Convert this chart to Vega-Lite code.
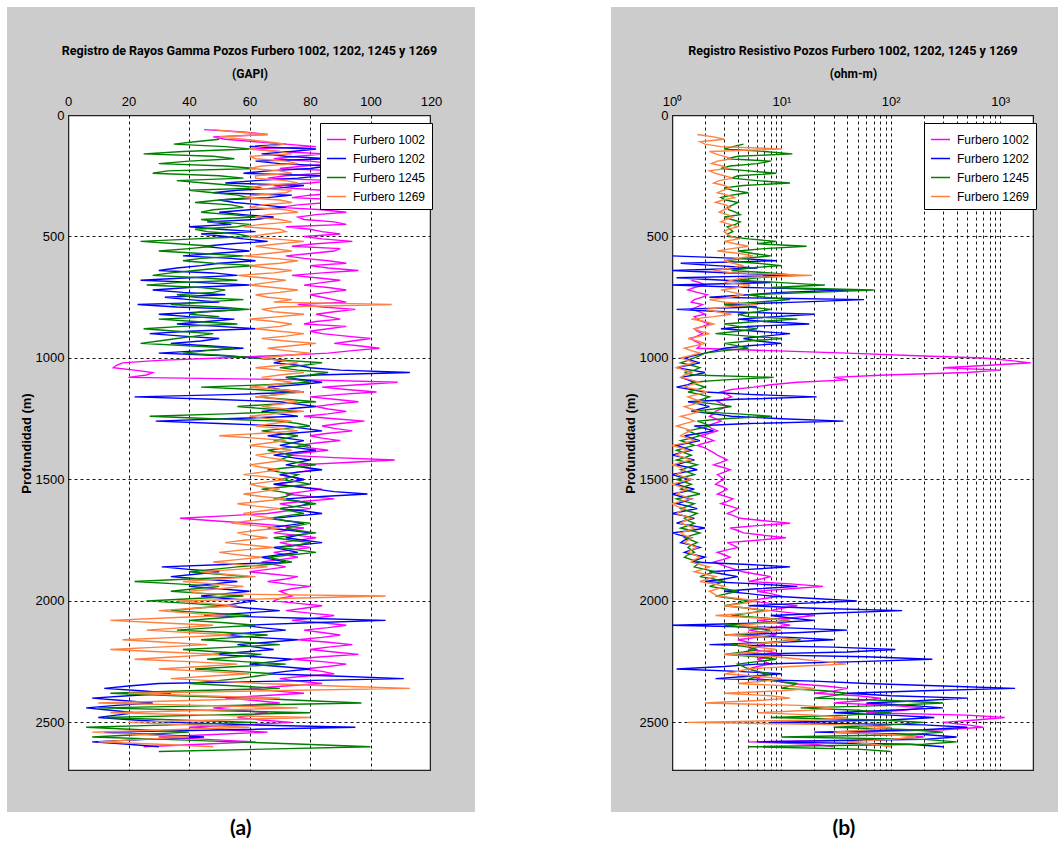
{
  "$schema": "https://vega.github.io/schema/vega-lite/v6.json",
  "background": "white",
  "padding": {"left": 6, "top": 5, "right": 0, "bottom": 0},
  "spacing": 134,
  "config": {
    "view": {"stroke": "#222222", "strokeWidth": 2.5, "fill": "white"},
    "axis": {"labelFont": "Liberation Sans", "labelFontSize": 13, "labelColor": "black", "titleColor": "black", "titleFont": "Roboto", "titleFontSize": 12, "titleFontWeight": "bold", "gridColor": "black", "gridDash": [3, 3], "gridOpacity": 0.9, "gridWidth": 1, "domain": false, "ticks": false, "tickSize": 0, "labelFlush": false, "labelOverlap": false},
    "title": {"font": "Roboto", "fontSize": 12.5, "fontWeight": "bold", "color": "black"},
    "legend": {"strokeColor": "black", "fillColor": "white", "padding": 6, "symbolType": "stroke", "symbolSize": 361, "symbolStrokeWidth": 1.5, "labelFont": "Liberation Sans", "labelFontSize": 12, "labelColor": "black", "rowPadding": 2, "labelOffset": 6, "cornerRadius": 0}
  },
  "datasets": {
    "w": [
      {"d":60,"g1002":45,"g1269":48},
      {"d":80,"g1002":66,"g1269":66,"r1269":1.7},
      {"d":100,"g1002":52,"g1245":50,"g1269":58,"r1269":3},
      {"d":120,"g1002":72,"g1202":72,"g1245":35,"g1269":72,"r1245":4.5,"r1269":2},
      {"d":140,"g1002":60,"g1202":82,"g1245":60,"g1269":60,"r1245":3,"r1269":10},
      {"d":160,"g1002":85,"g1202":64,"g1245":25,"g1269":74,"r1245":12.6,"r1269":2.5},
      {"d":180,"g1002":68,"g1202":86,"g1245":55,"g1269":62,"r1245":3.2,"r1269":3.5},
      {"d":200,"g1002":88,"g1202":70,"g1245":30,"g1269":76,"r1245":6,"r1269":2.3},
      {"d":220,"g1002":70,"g1202":80,"g1245":62,"g1269":60,"r1245":2.8,"r1269":3.2},
      {"d":240,"g1002":84,"g1202":58,"g1245":28,"g1269":74,"r1245":9,"r1269":2.5},
      {"d":260,"g1002":66,"g1202":76,"g1245":58,"g1269":62,"r1245":3.5,"r1269":3.6},
      {"d":280,"g1002":80,"g1202":52,"g1245":45,"g1269":76,"r1245":12,"r1269":2.4},
      {"d":300,"g1002":72,"g1202":70,"g1245":64,"g1269":60,"r1245":3,"r1269":3.4},
      {"d":320,"g1002":90,"g1202":48,"g1245":48,"g1269":72,"r1245":5,"r1269":2.6},
      {"d":340,"g1002":74,"g1202":66,"g1245":60,"g1269":58,"r1245":2.8,"r1269":3.8},
      {"d":360,"g1002":86,"g1202":55,"g1245":42,"g1269":74,"r1245":4,"r1269":2.5},
      {"d":380,"g1002":70,"g1202":72,"g1245":58,"g1269":60,"r1245":3.2,"r1269":3.4},
      {"d":400,"g1002":92,"g1202":50,"g1245":44,"g1269":76,"r1245":3.8,"r1269":2.7},
      {"d":420,"g1002":76,"g1202":68,"g1245":62,"g1269":62,"r1245":3,"r1269":3.6},
      {"d":440,"g1002":88,"g1202":46,"g1245":50,"g1269":74,"r1245":4.2,"r1269":2.8},
      {"d":460,"g1002":72,"g1202":40,"g1245":56,"g1269":58,"r1245":3.2,"r1269":4},
      {"d":480,"g1002":84,"g1202":62,"g1245":46,"g1269":72,"r1245":3.6,"r1269":3},
      {"d":500,"g1002":78,"g1202":52,"g1245":60,"g1269":60,"r1245":3.3,"r1269":3.5},
      {"d":520,"g1002":94,"g1202":66,"g1245":24,"g1269":78,"r1245":9,"r1269":3},
      {"d":540,"g1002":74,"g1202":45,"g1245":48,"g1269":62,"r1245":17,"r1269":5},
      {"d":560,"g1002":88,"g1202":60,"g1245":30,"g1269":74,"r1245":4,"r1269":2.6},
      {"d":580,"g1002":72,"g1202":38,"g1245":58,"g1269":58,"r1202":1,"r1245":8,"r1269":5.5},
      {"d":600,"g1002":86,"g1202":62,"g1245":38,"g1269":76,"r1202":9,"r1245":3,"r1269":3},
      {"d":620,"g1002":80,"g1202":44,"g1245":62,"g1269":60,"r1202":2.5,"r1245":10,"r1269":4.5},
      {"d":640,"g1002":96,"g1202":30,"g1245":42,"g1269":74,"r1202":1,"r1245":3.5,"r1269":2.4},
      {"d":660,"g1002":74,"g1202":56,"g1245":28,"g1269":56,"r1202":12,"r1245":14,"r1269":19},
      {"d":680,"g1002":90,"g1202":24,"g1245":56,"g1269":72,"r1002":1.5,"r1202":3,"r1245":4,"r1269":3.5},
      {"d":700,"g1002":78,"g1202":60,"g1245":26,"g1269":60,"r1002":2,"r1202":1,"r1245":25,"r1269":5.2},
      {"d":720,"g1002":92,"g1202":28,"g1245":52,"g1269":76,"r1002":1.4,"r1202":41,"r1245":70,"r1269":2.8},
      {"d":740,"g1002":80,"g1202":52,"g1245":36,"g1269":62,"r1002":2.1,"r1202":5,"r1245":5,"r1269":4.5},
      {"d":760,"g1002":88,"g1202":40,"g1245":58,"g1269":74,"r1002":1.6,"r1202":57,"r1245":12,"r1269":2.2},
      {"d":780,"g1002":76,"g1202":23,"g1245":34,"g1269":107,"r1002":1.9,"r1202":3,"r1245":3,"r1269":6},
      {"d":800,"g1002":95,"g1202":58,"g1245":60,"g1269":64,"r1002":1.5,"r1202":1.1,"r1245":8,"r1269":2},
      {"d":820,"g1002":82,"g1202":30,"g1245":40,"g1269":78,"r1002":2,"r1202":20,"r1245":4,"r1269":3.5},
      {"d":840,"g1002":90,"g1202":55,"g1245":30,"g1269":60,"r1002":1.7,"r1202":4,"r1245":14,"r1269":1.5},
      {"d":860,"g1002":78,"g1202":36,"g1245":56,"g1269":74,"r1002":2.2,"r1202":18,"r1245":3,"r1269":2.4},
      {"d":880,"g1002":86,"g1202":62,"g1245":25,"g1269":62,"r1002":1.6,"r1202":2.8,"r1245":6,"r1269":1.6},
      {"d":900,"g1002":84,"g1202":27,"g1245":48,"g1269":78,"r1002":1.9,"r1202":12,"r1245":2.5,"r1269":2.2},
      {"d":920,"g1002":100,"g1202":50,"g1245":36,"g1269":64,"r1002":1.5,"r1202":4.5,"r1245":10,"r1269":1.4},
      {"d":940,"g1002":88,"g1202":34,"g1245":24,"g1269":82,"r1002":1.8,"r1202":10,"r1245":3,"r1269":2},
      {"d":960,"g1002":103,"g1202":58,"g1245":55,"g1269":66,"r1002":1.7,"r1202":3,"r1245":5,"r1269":1.3},
      {"d":980,"g1002":86,"g1202":30,"g1245":38,"g1269":80,"r1002":40,"r1202":2,"r1245":2,"r1269":1.8},
      {"d":1000,"g1002":50,"g1202":62,"g1245":62,"g1269":64,"r1002":700,"r1202":1.3,"r1245":1.6,"r1269":1.2},
      {"d":1020,"g1002":18,"g1202":68,"g1245":84,"g1269":76,"r1002":1900,"r1202":1.8,"r1245":1.2,"r1269":1.6},
      {"d":1040,"g1002":15,"g1202":80,"g1245":70,"g1269":62,"r1002":300,"r1202":1.1,"r1245":1.8,"r1269":1.1},
      {"d":1060,"g1002":28,"g1202":113,"g1245":86,"g1269":78,"r1002":500,"r1202":2,"r1245":1.3,"r1269":1.5},
      {"d":1080,"g1002":20,"g1202":72,"g1245":72,"g1269":64,"r1002":30,"r1202":1.2,"r1245":8.5,"r1269":1.2},
      {"d":1100,"g1002":109,"g1202":84,"g1245":80,"g1269":74,"r1002":14,"r1202":1.6,"r1245":1.5,"r1269":1.8},
      {"d":1120,"g1002":84,"g1202":66,"g1245":44,"g1269":60,"r1002":5.6,"r1202":1.1,"r1245":2,"r1269":1.3},
      {"d":1140,"g1002":102,"g1202":78,"g1245":74,"g1269":78,"r1002":2.8,"r1202":2,"r1245":1.4,"r1269":2.1},
      {"d":1160,"g1002":80,"g1202":22,"g1245":62,"g1269":62,"r1002":3.5,"r1202":21,"r1245":2.2,"r1269":1.4},
      {"d":1180,"g1002":96,"g1202":70,"g1245":82,"g1269":76,"r1002":2.6,"r1202":1.4,"r1245":1.6,"r1269":1.9},
      {"d":1200,"g1002":82,"g1202":82,"g1245":56,"g1269":64,"r1002":3.2,"r1202":2.2,"r1245":3.5,"r1269":1.3},
      {"d":1220,"g1002":92,"g1202":64,"g1245":76,"g1269":78,"r1002":2.5,"r1202":1.5,"r1245":1.5,"r1269":1.8},
      {"d":1240,"g1002":78,"g1202":76,"g1245":27,"g1269":60,"r1002":2.2,"r1202":3.5,"r1245":8,"r1269":1.2},
      {"d":1260,"g1002":98,"g1202":29,"g1245":70,"g1269":74,"r1002":2.8,"r1202":37,"r1245":1.7,"r1269":1.6},
      {"d":1280,"g1002":84,"g1202":72,"g1245":80,"g1269":62,"r1002":2.1,"r1202":1.6,"r1245":2.2,"r1269":1.1},
      {"d":1300,"g1002":94,"g1202":84,"g1245":64,"g1269":76,"r1002":2.6,"r1202":2.4,"r1245":1.4,"r1269":1.5},
      {"d":1320,"g1002":80,"g1202":66,"g1245":76,"g1269":50,"r1002":1.8,"r1202":1.3,"r1245":1.8,"r1269":1.2},
      {"d":1340,"g1002":90,"g1202":78,"g1245":68,"g1269":72,"r1002":2.4,"r1202":1.8,"r1245":1.2,"r1269":1.6},
      {"d":1360,"g1002":76,"g1202":70,"g1245":80,"g1269":60,"r1002":1.7,"r1202":1.1,"r1245":1.6,"r1269":1},
      {"d":1380,"g1002":86,"g1202":82,"g1245":66,"g1269":74,"r1002":2.2,"r1202":1.5,"r1245":1.1,"r1269":1.4},
      {"d":1400,"g1002":72,"g1202":68,"g1245":74,"g1269":62,"r1002":2.6,"r1202":1,"r1245":1.5,"r1269":1.1},
      {"d":1420,"g1002":108,"g1202":80,"g1245":70,"g1269":72,"r1002":3.2,"r1202":1.6,"r1245":1.1,"r1269":1.5},
      {"d":1440,"g1002":76,"g1202":72,"g1245":82,"g1269":60,"r1002":2.4,"r1202":1.1,"r1245":1.7,"r1269":1},
      {"d":1460,"g1002":82,"g1202":84,"g1245":66,"g1269":70,"r1002":3.4,"r1202":1.7,"r1245":1.2,"r1269":1.3},
      {"d":1480,"g1002":70,"g1202":70,"g1245":76,"g1269":58,"r1002":2.6,"r1202":1,"r1245":1.6,"r1269":1.1},
      {"d":1500,"g1002":78,"g1202":78,"g1245":70,"g1269":72,"r1002":3,"r1202":1.5,"r1245":1.1,"r1269":1.5},
      {"d":1520,"g1002":68,"g1202":68,"g1245":80,"g1269":60,"r1002":2.5,"r1202":1.1,"r1245":1.5,"r1269":1},
      {"d":1540,"g1002":84,"g1202":82,"g1245":64,"g1269":70,"r1002":3.2,"r1202":1.6,"r1245":1.2,"r1269":1.4},
      {"d":1560,"g1002":72,"g1202":99,"g1245":74,"g1269":58,"r1002":2.6,"r1202":1,"r1245":1.8,"r1269":1.1},
      {"d":1580,"g1002":88,"g1202":72,"g1245":68,"g1269":72,"r1002":3.6,"r1202":1.5,"r1245":1.1,"r1269":1.5},
      {"d":1600,"g1002":70,"g1202":80,"g1245":82,"g1269":56,"r1002":2.8,"r1202":1.1,"r1245":1.6,"r1269":1},
      {"d":1620,"g1002":80,"g1202":70,"g1245":70,"g1269":70,"r1002":4,"r1202":1.7,"r1245":1.2,"r1269":1.3},
      {"d":1640,"g1002":66,"g1202":84,"g1245":78,"g1269":58,"r1002":3.2,"r1202":1,"r1245":1.7,"r1269":1.1},
      {"d":1660,"g1002":37,"g1202":68,"g1245":66,"g1269":68,"r1002":4.2,"r1202":1.6,"r1245":1.3,"r1269":1.5},
      {"d":1680,"g1002":60,"g1202":78,"g1245":80,"g1269":54,"r1002":12,"r1202":1.1,"r1245":1.6,"r1269":1.2},
      {"d":1700,"g1002":78,"g1202":66,"g1245":72,"g1269":70,"r1002":3.4,"r1202":2,"r1245":1.2,"r1269":1.6},
      {"d":1720,"g1002":68,"g1202":80,"g1245":82,"g1269":56,"r1002":4.5,"r1202":1,"r1245":1.8,"r1269":1.2},
      {"d":1740,"g1002":82,"g1202":72,"g1245":68,"g1269":66,"r1002":11,"r1202":1.5,"r1245":1.3,"r1269":1.5},
      {"d":1760,"g1002":70,"g1202":84,"g1245":80,"g1269":52,"r1002":3.2,"r1202":1.2,"r1245":1.7,"r1269":1.3},
      {"d":1780,"g1002":80,"g1202":68,"g1245":70,"g1269":68,"r1002":4,"r1202":1.8,"r1245":1.4,"r1269":1.7},
      {"d":1800,"g1002":68,"g1202":76,"g1245":82,"g1269":50,"r1002":2.6,"r1202":1.3,"r1245":1.6,"r1269":1.4},
      {"d":1820,"g1002":76,"g1202":64,"g1245":66,"g1269":64,"r1002":3.4,"r1202":2,"r1245":1.3,"r1269":1.8},
      {"d":1840,"g1002":64,"g1202":72,"g1245":74,"g1269":48,"r1002":2.4,"r1202":1.5,"r1245":1.8,"r1269":1.5},
      {"d":1860,"g1002":72,"g1202":31,"g1245":56,"g1269":66,"r1002":3.2,"r1202":12,"r1245":1.6,"r1269":2.2},
      {"d":1880,"g1002":60,"g1202":50,"g1245":40,"g1269":44,"r1002":4.4,"r1202":2.2,"r1245":2.5,"r1269":1.6},
      {"d":1900,"g1002":76,"g1202":34,"g1245":60,"g1269":62,"r1002":8,"r1202":4,"r1245":1.8,"r1269":2.5},
      {"d":1920,"g1002":66,"g1202":56,"g1245":22,"g1269":38,"r1002":5,"r1202":2,"r1245":3,"r1269":1.8},
      {"d":1940,"g1002":80,"g1202":40,"g1245":50,"g1269":58,"r1002":24,"r1202":14,"r1245":2.2,"r1269":3},
      {"d":1960,"g1002":70,"g1202":60,"g1245":34,"g1269":40,"r1002":6,"r1202":3,"r1245":4,"r1269":2.2},
      {"d":1980,"g1002":74,"g1202":44,"g1245":58,"g1269":105,"r1002":10,"r1202":8,"r1245":2.5,"r1269":2.6},
      {"d":2000,"g1002":68,"g1202":62,"g1245":26,"g1269":36,"r1002":5,"r1202":49,"r1245":5,"r1269":6},
      {"d":2020,"g1002":84,"g1202":52,"g1245":52,"g1269":56,"r1002":14,"r1202":5,"r1245":3,"r1269":3},
      {"d":2040,"g1002":72,"g1202":70,"g1245":34,"g1269":30,"r1002":8,"r1202":127,"r1245":7,"r1269":8},
      {"d":2060,"g1002":88,"g1202":45,"g1245":60,"g1269":52,"r1002":20,"r1202":8,"r1245":3.5,"r1269":2.5},
      {"d":2080,"g1002":74,"g1202":105,"g1245":40,"g1269":14,"r1002":6,"r1202":20,"r1245":12,"r1269":12},
      {"d":2100,"g1002":92,"g1202":58,"g1245":62,"g1269":48,"r1002":12,"r1202":1,"r1245":3,"r1269":4},
      {"d":2120,"g1002":78,"g1202":72,"g1245":36,"g1269":26,"r1002":5,"r1202":40,"r1245":8,"r1269":10},
      {"d":2140,"g1002":90,"g1202":50,"g1245":66,"g1269":54,"r1002":9,"r1202":3,"r1245":4,"r1269":3},
      {"d":2160,"g1002":76,"g1202":76,"g1245":44,"g1269":18,"r1002":4,"r1202":30,"r1245":15,"r1269":14},
      {"d":2180,"g1002":94,"g1202":56,"g1245":70,"g1269":46,"r1002":7,"r1202":2.2,"r1245":3.5,"r1269":4},
      {"d":2200,"g1002":80,"g1202":68,"g1245":38,"g1269":14,"r1002":5,"r1202":110,"r1245":6,"r1269":9},
      {"d":2220,"g1002":96,"g1202":48,"g1245":64,"g1269":50,"r1002":10,"r1202":4,"r1245":3,"r1269":3},
      {"d":2240,"g1002":74,"g1202":74,"g1245":46,"g1269":22,"r1002":6,"r1202":240,"r1245":9,"r1269":15},
      {"d":2260,"g1002":92,"g1202":60,"g1245":72,"g1269":56,"r1002":8,"r1202":6,"r1245":4,"r1269":39},
      {"d":2280,"g1002":78,"g1202":80,"g1245":42,"g1269":30,"r1002":5,"r1202":1.1,"r1245":5,"r1269":5},
      {"d":2300,"g1002":88,"g1202":66,"g1245":68,"g1269":60,"r1002":7,"r1202":10,"r1245":8,"r1269":3},
      {"d":2320,"g1002":70,"g1202":111,"g1245":56,"g1269":34,"r1002":6,"r1202":2.5,"r1245":5,"r1269":10},
      {"d":2340,"g1002":84,"g1202":30,"g1245":40,"g1269":64,"r1002":12,"r1202":60,"r1245":14,"r1269":4},
      {"d":2360,"g1002":60,"g1202":12,"g1245":70,"g1269":113,"r1002":40,"r1202":1370,"r1245":10,"r1269":20},
      {"d":2380,"g1002":78,"g1202":34,"g1245":14,"g1269":20,"r1002":20,"r1202":40,"r1245":40,"r1269":3},
      {"d":2400,"g1002":52,"g1202":8,"g1245":60,"g1269":70,"r1002":80,"r1202":500,"r1245":20,"r1269":12},
      {"d":2420,"g1002":70,"g1202":28,"g1245":97,"g1269":10,"r1002":30,"r1202":60,"r1245":300,"r1269":2},
      {"d":2440,"g1002":48,"g1202":6,"g1245":10,"g1269":76,"r1002":200,"r1202":300,"r1245":15,"r1269":30},
      {"d":2460,"g1002":66,"g1202":22,"g1245":80,"g1269":14,"r1002":60,"r1202":30,"r1245":100,"r1269":6},
      {"d":2480,"g1002":56,"g1202":10,"g1245":12,"g1269":80,"r1002":1100,"r1202":250,"r1245":8,"r1269":40},
      {"d":2500,"g1002":74,"g1202":35,"g1245":62,"g1269":20,"r1002":300,"r1202":8,"r1245":200,"r1269":1.4},
      {"d":2520,"g1002":40,"g1202":95,"g1245":6,"g1269":60,"r1002":700,"r1202":500,"r1245":30,"r1269":100},
      {"d":2540,"g1002":66,"g1202":12,"g1245":40,"g1269":8,"r1002":40,"r1202":20,"r1245":300,"r1269":30},
      {"d":2560,"g1002":30,"g1202":45,"g1245":8,"g1269":40,"r1002":200,"r1202":400,"r1245":10,"r1269":170},
      {"d":2580,"g1002":62,"g1202":8,"g1245":55,"g1269":10,"r1002":5,"r1202":6,"r1245":400,"r1269":40},
      {"d":2600,"g1002":25,"g1202":30,"g1245":100,"g1269":48,"r1002":30,"r1202":300,"r1245":5,"r1269":100},
      {"d":2620,"g1245":30,"r1245":100},
      {"d":70,"g1002":58,"g1269":56},
      {"d":90,"g1002":48,"g1269":50,"r1269":2.4},
      {"d":110,"g1002":62,"g1245":42,"g1269":66,"r1269":1.8},
      {"d":130,"g1002":82,"g1202":60,"g1245":52,"g1269":64,"r1245":3.6,"r1269":2.8},
      {"d":150,"g1002":70,"g1202":74,"g1245":38,"g1269":70,"r1245":7,"r1269":2.2},
      {"d":170,"g1002":76,"g1202":72,"g1245":48,"g1269":60,"r1245":4,"r1269":3},
      {"d":190,"g1002":80,"g1202":62,"g1245":40,"g1269":72,"r1245":8,"r1269":2.6},
      {"d":210,"g1002":78,"g1202":86,"g1245":52,"g1269":64,"r1245":3.4,"r1269":2.9},
      {"d":230,"g1002":90,"g1202":66,"g1245":33,"g1269":70,"r1245":5,"r1269":2.2},
      {"d":250,"g1002":72,"g1202":84,"g1245":50,"g1269":62,"r1245":4,"r1269":3},
      {"d":270,"g1002":88,"g1202":62,"g1245":36,"g1269":72,"r1245":6,"r1269":2.7},
      {"d":290,"g1002":68,"g1202":78,"g1245":55,"g1269":64,"r1245":4.5,"r1269":3},
      {"d":310,"g1002":84,"g1202":56,"g1245":40,"g1269":74,"r1245":3.6,"r1269":2.9},
      {"d":330,"g1002":80,"g1202":74,"g1245":56,"g1269":62,"r1245":3.5,"r1269":3.2},
      {"d":350,"g1002":92,"g1202":50,"g1245":50,"g1269":70,"r1245":3.1,"r1269":2.9},
      {"d":370,"g1002":76,"g1202":64,"g1245":54,"g1269":64,"r1245":3.6,"r1269":3.1},
      {"d":390,"g1002":84,"g1202":60,"g1245":48,"g1269":72,"r1245":3.3,"r1269":3},
      {"d":410,"g1002":82,"g1202":58,"g1245":54,"g1269":66,"r1245":4.2,"r1269":3.2},
      {"d":430,"g1002":78,"g1202":62,"g1245":44,"g1269":70,"r1245":3.5,"r1269":3.1},
      {"d":450,"g1002":92,"g1202":54,"g1245":60,"g1269":64,"r1245":3.8,"r1269":3.4},
      {"d":470,"g1002":80,"g1202":50,"g1245":42,"g1269":70,"r1245":3.4,"r1269":3.3},
      {"d":490,"g1002":90,"g1202":44,"g1245":56,"g1269":66,"r1245":3.2,"r1269":3.2},
      {"d":510,"g1002":84,"g1202":58,"g1245":42,"g1269":68,"r1245":5,"r1269":4},
      {"d":530,"g1002":82,"g1202":54,"g1245":36,"g1269":70,"r1245":6,"r1269":3.8},
      {"d":550,"g1002":90,"g1202":52,"g1245":40,"g1269":68,"r1245":7,"r1269":3.5},
      {"d":570,"g1002":80,"g1202":48,"g1245":44,"g1269":66,"r1245":5.5,"r1269":4.2},
      {"d":590,"g1002":78,"g1202":54,"g1245":44,"g1269":68,"r1202":4,"r1245":4.5,"r1269":4},
      {"d":610,"g1002":92,"g1202":50,"g1245":48,"g1269":70,"r1202":1.2,"r1245":6,"r1269":3.6},
      {"d":630,"g1002":86,"g1202":36,"g1245":50,"g1269":66,"r1202":6,"r1245":5,"r1269":3.4},
      {"d":650,"g1002":84,"g1202":48,"g1245":34,"g1269":68,"r1202":3.5,"r1245":8,"r1269":3.6},
      {"d":670,"g1002":82,"g1202":40,"g1245":44,"g1269":64,"r1202":1.1,"r1245":6,"r1269":4.5},
      {"d":690,"g1002":84,"g1202":44,"g1245":36,"g1269":66,"r1002":1.8,"r1202":8,"r1245":10,"r1269":3},
      {"d":710,"g1002":86,"g1202":40,"g1245":44,"g1269":68,"r1002":1.6,"r1202":5,"r1245":8,"r1269":4},
      {"d":730,"g1002":86,"g1202":38,"g1245":48,"g1269":70,"r1002":1.7,"r1202":10,"r1245":20,"r1269":3.6},
      {"d":750,"g1002":84,"g1202":32,"g1245":42,"g1269":66,"r1002":1.9,"r1202":2.2,"r1245":7,"r1269":3.4},
      {"d":770,"g1002":92,"g1202":50,"g1245":44,"g1269":68,"r1002":1.5,"r1202":14,"r1245":6,"r1269":3},
      {"d":790,"g1002":84,"g1202":36,"g1245":50,"g1269":70,"r1002":1.7,"r1202":6,"r1245":5,"r1269":3.2},
      {"d":810,"g1002":88,"g1202":46,"g1245":44,"g1269":68,"r1002":1.8,"r1202":3,"r1245":6,"r1269":2.6},
      {"d":830,"g1002":86,"g1202":40,"g1245":50,"g1269":70,"r1002":1.6,"r1202":9,"r1245":5,"r1269":2.4},
      {"d":850,"g1002":82,"g1202":46,"g1245":42,"g1269":68,"r1002":1.9,"r1202":7,"r1245":6,"r1269":2},
      {"d":870,"g1002":92,"g1202":50,"g1245":38,"g1269":70,"r1002":1.9,"r1202":5,"r1245":4,"r1269":2},
      {"d":890,"g1002":80,"g1202":40,"g1245":36,"g1269":70,"r1002":1.7,"r1202":6,"r1245":4,"r1269":1.8},
      {"d":910,"g1002":92,"g1202":38,"g1245":42,"g1269":72,"r1002":1.7,"r1202":7,"r1245":5,"r1269":1.8},
      {"d":930,"g1002":94,"g1202":44,"g1245":30,"g1269":72,"r1002":1.6,"r1202":6,"r1245":5,"r1269":1.7},
      {"d":950,"g1002":96,"g1202":46,"g1245":40,"g1269":74,"r1002":1.8,"r1202":5,"r1245":4,"r1269":1.6},
      {"d":970,"g1002":94,"g1202":44,"g1245":46,"g1269":72,"r1002":8,"r1202":2.5,"r1245":3,"r1269":1.5},
      {"d":990,"g1002":70,"g1202":50,"g1245":52,"g1269":72,"r1002":150,"r1202":1.6,"r1245":1.8,"r1269":1.5},
      {"d":1010,"g1002":30,"g1202":72,"g1245":72,"g1269":70,"r1002":1200,"r1202":1.5,"r1245":1.4,"r1269":1.4},
      {"d":1030,"g1002":16,"g1202":76,"g1245":78,"g1269":70,"r1002":800,"r1202":1.4,"r1245":1.5,"r1269":1.3},
      {"d":1050,"g1002":22,"g1202":90,"g1245":76,"g1269":70,"r1002":1000,"r1202":1.5,"r1245":1.6,"r1269":1.3},
      {"d":1070,"g1002":26,"g1202":82,"g1245":80,"g1269":70,"r1002":90,"r1202":1.6,"r1245":1.6,"r1269":1.3},
      {"d":1090,"g1002":80,"g1202":78,"g1245":76,"g1269":68,"r1002":40,"r1202":1.4,"r1245":3,"r1269":1.5},
      {"d":1110,"g1002":96,"g1202":76,"g1245":66,"g1269":68,"r1002":8,"r1202":1.4,"r1245":1.7,"r1269":1.5},
      {"d":1130,"g1002":92,"g1202":70,"g1245":62,"g1269":70,"r1002":3.5,"r1202":1.5,"r1245":1.7,"r1269":1.7},
      {"d":1150,"g1002":90,"g1202":56,"g1245":70,"g1269":70,"r1002":3.2,"r1202":5,"r1245":1.8,"r1269":1.7},
      {"d":1170,"g1002":88,"g1202":48,"g1245":72,"g1269":70,"r1002":3,"r1202":4,"r1245":1.9,"r1269":1.6},
      {"d":1190,"g1002":88,"g1202":76,"g1245":68,"g1269":70,"r1002":2.9,"r1202":1.8,"r1245":2.5,"r1269":1.6},
      {"d":1210,"g1002":86,"g1202":72,"g1245":66,"g1269":72,"r1002":2.8,"r1202":1.8,"r1245":2.4,"r1269":1.5},
      {"d":1230,"g1002":86,"g1202":70,"g1245":52,"g1269":68,"r1002":2.4,"r1202":2.4,"r1245":4,"r1269":1.5},
      {"d":1250,"g1002":88,"g1202":52,"g1245":48,"g1269":66,"r1002":2.5,"r1202":10,"r1245":3,"r1269":1.4},
      {"d":1270,"g1002":90,"g1202":50,"g1245":76,"g1269":68,"r1002":2.4,"r1202":5,"r1245":2,"r1269":1.3},
      {"d":1290,"g1002":88,"g1202":78,"g1245":72,"g1269":70,"r1002":2.3,"r1202":2,"r1245":1.8,"r1269":1.3},
      {"d":1310,"g1002":86,"g1202":74,"g1245":70,"g1269":64,"r1002":2.2,"r1202":1.8,"r1245":1.6,"r1269":1.3},
      {"d":1330,"g1002":84,"g1202":72,"g1245":72,"g1269":62,"r1002":2.1,"r1202":1.5,"r1245":1.5,"r1269":1.4},
      {"d":1350,"g1002":82,"g1202":74,"g1245":74,"g1269":66,"r1002":2,"r1202":1.4,"r1245":1.4,"r1269":1.3},
      {"d":1370,"g1002":80,"g1202":76,"g1245":72,"g1269":68,"r1002":2,"r1202":1.3,"r1245":1.3,"r1269":1.2},
      {"d":1390,"g1002":78,"g1202":74,"g1245":70,"g1269":68,"r1002":2.4,"r1202":1.2,"r1245":1.3,"r1269":1.2},
      {"d":1410,"g1002":88,"g1202":74,"g1245":72,"g1269":66,"r1002":2.9,"r1202":1.3,"r1245":1.3,"r1269":1.3},
      {"d":1430,"g1002":92,"g1202":76,"g1245":76,"g1269":66,"r1002":2.8,"r1202":1.3,"r1245":1.4,"r1269":1.2},
      {"d":1450,"g1002":78,"g1202":78,"g1245":74,"g1269":64,"r1002":2.9,"r1202":1.4,"r1245":1.4,"r1269":1.2},
      {"d":1470,"g1002":76,"g1202":76,"g1245":70,"g1269":64,"r1002":3,"r1202":1.3,"r1245":1.4,"r1269":1.2},
      {"d":1490,"g1002":74,"g1202":74,"g1245":74,"g1269":66,"r1002":2.8,"r1202":1.2,"r1245":1.3,"r1269":1.3},
      {"d":1510,"g1002":74,"g1202":74,"g1245":76,"g1269":66,"r1002":2.7,"r1202":1.3,"r1245":1.3,"r1269":1.2},
      {"d":1530,"g1002":76,"g1202":76,"g1245":72,"g1269":64,"r1002":2.9,"r1202":1.3,"r1245":1.3,"r1269":1.2},
      {"d":1550,"g1002":78,"g1202":88,"g1245":70,"g1269":64,"r1002":2.9,"r1202":1.3,"r1245":1.5,"r1269":1.2},
      {"d":1570,"g1002":80,"g1202":84,"g1245":72,"g1269":64,"r1002":3.1,"r1202":1.2,"r1245":1.4,"r1269":1.3},
      {"d":1590,"g1002":78,"g1202":76,"g1245":76,"g1269":64,"r1002":3.2,"r1202":1.3,"r1245":1.3,"r1269":1.2},
      {"d":1610,"g1002":74,"g1202":76,"g1245":76,"g1269":62,"r1002":3.4,"r1202":1.4,"r1245":1.4,"r1269":1.1},
      {"d":1630,"g1002":72,"g1202":78,"g1245":74,"g1269":64,"r1002":3.6,"r1202":1.3,"r1245":1.4,"r1269":1.2},
      {"d":1650,"g1002":52,"g1202":76,"g1245":72,"g1269":62,"r1002":3.7,"r1202":1.3,"r1245":1.5,"r1269":1.3},
      {"d":1670,"g1002":48,"g1202":72,"g1245":72,"g1269":60,"r1002":7,"r1202":1.3,"r1245":1.4,"r1269":1.3},
      {"d":1690,"g1002":70,"g1202":72,"g1245":76,"g1269":62,"r1002":6,"r1202":1.5,"r1245":1.4,"r1269":1.4},
      {"d":1710,"g1002":72,"g1202":74,"g1245":76,"g1269":62,"r1002":4,"r1202":1.5,"r1245":1.5,"r1269":1.4},
      {"d":1730,"g1002":76,"g1202":76,"g1245":74,"g1269":60,"r1002":7,"r1202":1.2,"r1245":1.5,"r1269":1.3},
      {"d":1750,"g1002":76,"g1202":78,"g1245":74,"g1269":58,"r1002":6,"r1202":1.3,"r1245":1.5,"r1269":1.4},
      {"d":1770,"g1002":74,"g1202":76,"g1245":76,"g1269":60,"r1002":3.6,"r1202":1.5,"r1245":1.5,"r1269":1.5},
      {"d":1790,"g1002":74,"g1202":72,"g1245":76,"g1269":58,"r1002":3.2,"r1202":1.5,"r1245":1.5,"r1269":1.5},
      {"d":1810,"g1002":72,"g1202":70,"g1245":74,"g1269":56,"r1002":3,"r1202":1.6,"r1245":1.4,"r1269":1.6},
      {"d":1830,"g1002":70,"g1202":68,"g1245":70,"g1269":56,"r1002":2.9,"r1202":1.7,"r1245":1.5,"r1269":1.6},
      {"d":1850,"g1002":68,"g1202":52,"g1245":66,"g1269":56,"r1002":2.8,"r1202":5,"r1245":1.7,"r1269":1.8},
      {"d":1870,"g1002":66,"g1202":40,"g1245":48,"g1269":56,"r1002":3.8,"r1202":5,"r1245":2,"r1269":1.9},
      {"d":1890,"g1002":68,"g1202":42,"g1245":50,"g1269":52,"r1002":6,"r1202":3,"r1245":2.1,"r1269":2},
      {"d":1910,"g1002":72,"g1202":44,"g1245":40,"g1269":50,"r1002":6.5,"r1202":3,"r1245":2.4,"r1269":2.1},
      {"d":1930,"g1002":72,"g1202":48,"g1245":36,"g1269":48,"r1002":12,"r1202":6,"r1245":2.6,"r1269":2.4},
      {"d":1950,"g1002":74,"g1202":50,"g1245":42,"g1269":50,"r1002":12,"r1202":6,"r1245":3,"r1269":2.6},
      {"d":1970,"g1002":72,"g1202":52,"g1245":46,"g1269":44,"r1002":8,"r1202":5,"r1245":3.2,"r1269":2.4},
      {"d":1990,"g1002":70,"g1202":52,"g1245":42,"g1269":70,"r1002":7,"r1202":20,"r1245":3.6,"r1269":4},
      {"d":2010,"g1002":76,"g1202":56,"g1245":40,"g1269":46,"r1002":8,"r1202":15,"r1245":4,"r1269":4.5},
      {"d":2030,"g1002":78,"g1202":60,"g1245":42,"g1269":42,"r1002":10,"r1202":20,"r1245":5,"r1269":5},
      {"d":2050,"g1002":80,"g1202":58,"g1245":48,"g1269":40,"r1002":13,"r1202":30,"r1245":5,"r1269":5},
      {"d":2070,"g1002":82,"g1202":75,"g1245":50,"g1269":32,"r1002":12,"r1202":12,"r1245":7,"r1269":6},
      {"d":2090,"g1002":84,"g1202":80,"g1245":52,"g1269":30,"r1002":9,"r1202":8,"r1245":7,"r1269":8},
      {"d":2110,"g1002":86,"g1202":64,"g1245":48,"g1269":38,"r1002":8,"r1202":10,"r1245":5,"r1269":7},
      {"d":2130,"g1002":84,"g1202":62,"g1245":52,"g1269":40,"r1002":7,"r1202":15,"r1245":6,"r1269":6},
      {"d":2150,"g1002":84,"g1202":62,"g1245":56,"g1269":36,"r1002":6,"r1202":12,"r1245":8,"r1269":8},
      {"d":2170,"g1002":86,"g1202":66,"g1245":58,"g1269":32,"r1002":5,"r1202":10,"r1245":8,"r1269":9},
      {"d":2190,"g1002":86,"g1202":62,"g1245":54,"g1269":30,"r1002":6,"r1202":30,"r1245":5,"r1269":6},
      {"d":2210,"g1002":88,"g1202":58,"g1245":50,"g1269":32,"r1002":8,"r1202":40,"r1245":4.5,"r1269":6},
      {"d":2230,"g1002":84,"g1202":62,"g1245":56,"g1269":36,"r1002":8,"r1202":60,"r1245":6,"r1269":9},
      {"d":2250,"g1002":84,"g1202":68,"g1245":58,"g1269":40,"r1002":7,"r1202":50,"r1245":6,"r1269":25},
      {"d":2270,"g1002":86,"g1202":70,"g1245":56,"g1269":44,"r1002":6,"r1202":3,"r1245":4.5,"r1269":12},
      {"d":2290,"g1002":84,"g1202":72,"g1245":56,"g1269":46,"r1002":6,"r1202":4,"r1245":6,"r1269":4},
      {"d":2310,"g1002":78,"g1202":90,"g1245":62,"g1269":46,"r1002":6.5,"r1202":5,"r1245":6.5,"r1269":6},
      {"d":2330,"g1002":76,"g1202":70,"g1245":48,"g1269":50,"r1002":9,"r1202":20,"r1245":9,"r1269":7},
      {"d":2350,"g1002":72,"g1202":20,"g1245":56,"g1269":88,"r1002":25,"r1202":300,"r1245":12,"r1269":12},
      {"d":2370,"g1002":68,"g1202":24,"g1245":40,"g1269":66,"r1002":30,"r1202":200,"r1245":25,"r1269":10},
      {"d":2390,"g1002":64,"g1202":20,"g1245":36,"g1269":44,"r1002":50,"r1202":100,"r1245":30,"r1269":8},
      {"d":2410,"g1002":62,"g1202":18,"g1245":78,"g1269":40,"r1002":55,"r1202":200,"r1245":100,"r1269":6},
      {"d":2430,"g1002":58,"g1202":16,"g1245":54,"g1269":44,"r1002":100,"r1202":150,"r1245":100,"r1269":15},
      {"d":2450,"g1002":56,"g1202":14,"g1245":44,"g1269":46,"r1002":130,"r1202":100,"r1245":50,"r1269":18},
      {"d":2470,"g1002":60,"g1202":16,"g1245":46,"g1269":46,"r1002":500,"r1202":100,"r1245":40,"r1269":20},
      {"d":2490,"g1002":64,"g1202":22,"g1245":36,"g1269":50,"r1002":600,"r1202":100,"r1245":80,"r1269":20},
      {"d":2510,"g1002":58,"g1202":60,"g1245":34,"g1269":40,"r1002":500,"r1202":200,"r1245":100,"r1269":40},
      {"d":2530,"g1002":52,"g1202":54,"g1245":24,"g1269":34,"r1002":300,"r1202":200,"r1245":150,"r1269":60},
      {"d":2550,"g1002":48,"g1202":28,"g1245":24,"g1269":24,"r1002":120,"r1202":200,"r1245":150,"r1269":100},
      {"d":2570,"g1002":46,"g1202":26,"g1245":32,"g1269":24,"r1002":100,"r1202":200,"r1245":200,"r1269":100},
      {"d":2590,"g1002":44,"g1202":20,"g1245":78,"g1269":30,"r1002":20,"r1202":150,"r1245":200,"r1269":70},
      {"d":2610,"g1245":65,"r1245":50}
    ]
  },
  "resolve": {"scale": {"color": "independent"}, "legend": {"color": "independent"}},
  "hconcat": [
    {
      "width": 363,
      "height": 656,
      "data": {"name": "w"},
      "title": {"text": "Registro de Rayos Gamma Pozos Furbero 1002, 1202, 1245 y 1269", "frame": "group", "anchor": "middle", "offset": 0, "dy": 50},
      "layer": [
        {
          "mark": {"type": "rect", "color": "#cccccc"},
          "encoding": {
            "x": {"datum": -20.07, "type": "quantitative", "scale": {"domain": [0, 120], "nice": false, "zero": false}, "axis": {"orient": "top", "grid": true, "labels": false, "title": null, "values": [20, 40, 60, 80, 100], "zindex": 0}},
            "x2": {"datum": 134.3},
            "y": {"datum": -444, "type": "quantitative", "scale": {"domain": [0, 2700], "reverse": true, "nice": false, "zero": false}, "axis": {"orient": "left", "grid": true, "labels": false, "title": null, "values": [500, 1000, 1500, 2000, 2500], "zindex": 0}},
            "y2": {"datum": 0}
          }
        },
        {
          "mark": {"type": "rect", "color": "#cccccc"},
          "encoding": {
            "x": {"datum": -20.07, "type": "quantitative", "scale": {"domain": [0, 120], "nice": false, "zero": false}, "axis": {"orient": "bottom", "grid": false, "labels": false, "title": "(a)", "titleFont": "Lato", "titleFontSize": 21, "titleFontWeight": "bold", "titlePadding": 46, "titleX": 172.3, "zindex": 1}},
            "x2": {"datum": 134.3},
            "y": {"datum": 2700, "type": "quantitative", "scale": {"domain": [0, 2700], "reverse": true, "nice": false, "zero": false}, "axis": null},
            "y2": {"datum": 2868}
          }
        },
        {
          "mark": {"type": "rect", "color": "#cccccc"},
          "encoding": {
            "x": {"datum": -20.07, "type": "quantitative", "scale": {"domain": [0, 120], "nice": false, "zero": false}, "axis": null},
            "x2": {"datum": 0},
            "y": {"datum": 0, "type": "quantitative", "scale": {"domain": [0, 2700], "reverse": true, "nice": false, "zero": false}, "axis": null},
            "y2": {"datum": 2700}
          }
        },
        {
          "mark": {"type": "rect", "color": "#cccccc"},
          "encoding": {
            "x": {"datum": 120, "type": "quantitative", "scale": {"domain": [0, 120], "nice": false, "zero": false}, "axis": null},
            "x2": {"datum": 134.3},
            "y": {"datum": 0, "type": "quantitative", "scale": {"domain": [0, 2700], "reverse": true, "nice": false, "zero": false}, "axis": null},
            "y2": {"datum": 2700}
          }
        },
        {
          "transform": [{"fold": ["g1002", "g1202", "g1245", "g1269"], "as": ["pozo", "v"]}],
          "mark": {"type": "line", "strokeWidth": 1.4, "clip": true},
          "encoding": {
            "x": {"field": "v", "type": "quantitative", "scale": {"domain": [0, 120], "nice": false, "zero": false}, "axis": {"orient": "top", "values": [0, 20, 40, 60, 80, 100, 120], "grid": false, "title": "(GAPI)", "titlePadding": 15, "labelPadding": 7, "zindex": 1}},
            "y": {"field": "d", "type": "quantitative", "scale": {"domain": [0, 2700], "reverse": true, "nice": false, "zero": false}, "axis": {"orient": "left", "values": [0, 500, 1000, 1500, 2000, 2500], "format": "d", "grid": false, "title": "Profundidad (m)", "titleFont": "Liberation Sans", "titleFontSize": 13, "labelPadding": 4, "titlePadding": 2, "zindex": 1}},
            "color": {"field": "pozo", "type": "nominal", "scale": {"domain": ["g1002", "g1202", "g1245", "g1269"], "range": ["#ff00ff", "#0000ff", "#008000", "#ff8040"]}, "legend": {"title": null, "orient": "none", "legendX": 252, "legendY": 8, "labelExpr": "'Furbero ' + substring(datum.label, 1)"}},
            "order": {"field": "d", "type": "quantitative"}
          }
        }
      ],
      "resolve": {"axis": {"x": "independent", "y": "independent"}}
    },
    {
      "width": 362,
      "height": 656,
      "data": {"name": "w"},
      "title": {"text": "Registro Resistivo Pozos Furbero 1002, 1202, 1245 y 1269", "frame": "group", "anchor": "middle", "offset": 0, "dy": 50},
      "layer": [
        {
          "mark": {"type": "rect", "color": "#cccccc"},
          "encoding": {
            "x": {"datum": 0.2797, "type": "quantitative", "scale": {"type": "log", "domain": [1, 2040], "nice": false}, "axis": {"orient": "top", "grid": true, "labels": false, "title": null, "values": [2, 3, 4, 5, 6, 7, 8, 9, 10, 20, 30, 40, 50, 60, 70, 80, 90, 100, 200, 300, 400, 500, 600, 700, 800, 900, 1000], "zindex": 0}},
            "x2": {"datum": 3614},
            "y": {"datum": -444, "type": "quantitative", "scale": {"domain": [0, 2700], "reverse": true, "nice": false, "zero": false}, "axis": {"orient": "left", "grid": true, "labels": false, "title": null, "values": [500, 1000, 1500, 2000, 2500], "zindex": 0}},
            "y2": {"datum": 0}
          }
        },
        {
          "mark": {"type": "rect", "color": "#cccccc"},
          "encoding": {
            "x": {"datum": 0.2797, "type": "quantitative", "scale": {"type": "log", "domain": [1, 2040], "nice": false}, "axis": {"orient": "bottom", "grid": false, "labels": false, "title": "(b)", "titleFont": "Lato", "titleFontSize": 21, "titleFontWeight": "bold", "titlePadding": 46, "titleX": 171.3, "zindex": 1}},
            "x2": {"datum": 3614},
            "y": {"datum": 2700, "type": "quantitative", "scale": {"domain": [0, 2700], "reverse": true, "nice": false, "zero": false}, "axis": null},
            "y2": {"datum": 2868}
          }
        },
        {
          "mark": {"type": "rect", "color": "#cccccc"},
          "encoding": {
            "x": {"datum": 0.2797, "type": "quantitative", "scale": {"type": "log", "domain": [1, 2040], "nice": false}, "axis": null},
            "x2": {"datum": 1},
            "y": {"datum": 0, "type": "quantitative", "scale": {"domain": [0, 2700], "reverse": true, "nice": false, "zero": false}, "axis": null},
            "y2": {"datum": 2700}
          }
        },
        {
          "mark": {"type": "rect", "color": "#cccccc"},
          "encoding": {
            "x": {"datum": 2040, "type": "quantitative", "scale": {"type": "log", "domain": [1, 2040], "nice": false}, "axis": null},
            "x2": {"datum": 3614},
            "y": {"datum": 0, "type": "quantitative", "scale": {"domain": [0, 2700], "reverse": true, "nice": false, "zero": false}, "axis": null},
            "y2": {"datum": 2700}
          }
        },
        {
          "transform": [{"fold": ["r1002", "r1202", "r1245", "r1269"], "as": ["pozo", "v"]}],
          "mark": {"type": "line", "strokeWidth": 1.4, "clip": true},
          "encoding": {
            "x": {"field": "v", "type": "quantitative", "scale": {"type": "log", "domain": [1, 2040], "nice": false}, "axis": {"orient": "top", "values": [1, 10, 100, 1000], "grid": false, "title": "(ohm-m)", "titlePadding": 15, "labelPadding": 7, "zindex": 1, "labelExpr": "datum.value == 1 ? '10⁰' : datum.value == 10 ? '10¹' : datum.value == 100 ? '10²' : '10³'"}},
            "y": {"field": "d", "type": "quantitative", "scale": {"domain": [0, 2700], "reverse": true, "nice": false, "zero": false}, "axis": {"orient": "left", "values": [0, 500, 1000, 1500, 2000, 2500], "format": "d", "grid": false, "title": "Profundidad (m)", "titleFont": "Liberation Sans", "titleFontSize": 13, "labelPadding": 4, "titlePadding": 2, "zindex": 1}},
            "color": {"field": "pozo", "type": "nominal", "scale": {"domain": ["r1002", "r1202", "r1245", "r1269"], "range": ["#ff00ff", "#0000ff", "#008000", "#ff8040"]}, "legend": {"title": null, "orient": "none", "legendX": 252, "legendY": 8, "labelExpr": "'Furbero ' + substring(datum.label, 1)"}},
            "order": {"field": "d", "type": "quantitative"}
          }
        }
      ],
      "resolve": {"axis": {"x": "independent", "y": "independent"}}
    }
  ]
}
